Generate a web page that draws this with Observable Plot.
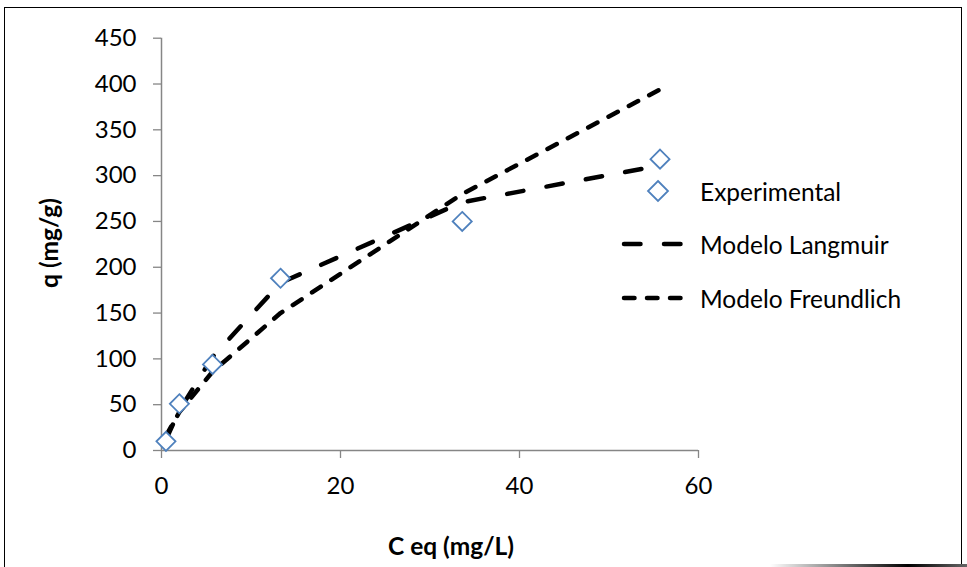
<!DOCTYPE html>
<html>
<head>
<meta charset="utf-8">
<script src="https://cdn.jsdelivr.net/npm/d3@7"></script>
<script src="https://cdn.jsdelivr.net/npm/@observablehq/plot@0.6"></script>
<style>
  html, body { margin: 0; padding: 0; background: #fff; }
  body { width: 967px; height: 567px; position: relative; overflow: hidden; font-family: Lato, "Open Sans", sans-serif; }
  #frame { position: absolute; left: 4px; top: 7px; width: 958px; height: 570px; border: 1.5px solid #000; box-sizing: border-box; }
  #shadow { position: absolute; left: 770px; top: 564px; width: 197px; height: 3px; background: linear-gradient(to right, rgba(0,0,0,0), #000 70%, #666); }
  #chart { position: absolute; left: 0; top: 0; }
  .ttl { position: absolute; font-weight: bold; font-size: 24.5px; color: #000; white-space: nowrap; }
  #xt { left: 451px; top: 545px; transform: translate(-50%, -50%); }
  #yt { left: 48px; top: 243px; transform: translate(-50%, -50%) rotate(-90deg); }
  .leg { position: absolute; font-size: 24.5px; color: #000; white-space: nowrap; transform: translateY(-50%); }
  .legsvg { position: absolute; }
</style>
</head>
<body>
<div id="frame"></div>
<div id="shadow"></div>
<div id="chart"></div>
<div class="ttl" id="xt">C eq (mg/L)</div>
<div class="ttl" id="yt">q (mg/g)</div>
<svg class="legsvg" style="left:640px;top:176px" width="36" height="30"><path d="M18,5 L28,15 L18,25 L8,15 Z" fill="#fff" stroke="#4f81bd" stroke-width="1.8"/></svg>
<div class="leg" style="left:700px;top:191px">Experimental</div>
<svg class="legsvg" style="left:616px;top:234px" width="76" height="20"><line x1="8" y1="10" x2="68" y2="10" stroke="#000" stroke-width="4.5" stroke-linecap="round" stroke-dasharray="16.5,23.5"/></svg>
<div class="leg" style="left:700px;top:244px">Modelo Langmuir</div>
<svg class="legsvg" style="left:616px;top:288px" width="76" height="20"><line x1="8" y1="10" x2="68" y2="10" stroke="#000" stroke-width="4.5" stroke-linecap="round" stroke-dasharray="10.5,12.5"/></svg>
<div class="leg" style="left:700px;top:298px">Modelo Freundlich</div>
<script>
const ceq = [0.5, 2.0, 5.7, 13.3, 33.6, 55.7];
const experimental = [10, 51, 94, 188, 250, 318];
const langmuir = [12, 44, 102, 183, 271, 311];
const freundlich = [16, 42, 86, 150, 280, 394];
const xTicks = [0, 20, 40, 60];
const yTicks = [0, 50, 100, 150, 200, 250, 300, 350, 400, 450];

const expData = ceq.map((c, i) => ({c, q: experimental[i]}));
const langData = ceq.map((c, i) => ({c, q: langmuir[i]}));
const freData = ceq.map((c, i) => ({c, q: freundlich[i]}));

const axisColor = "#868686";
const chart = Plot.plot({
  width: 967,
  height: 567,
  marginLeft: 161,
  marginRight: 269,
  marginTop: 37.7,
  marginBottom: 117,
  style: { fontFamily: "Lato, 'Open Sans', sans-serif", background: "transparent", color: "#000" },
  x: { domain: [0, 60] },
  y: { domain: [0, 450] },
  marks: [
    Plot.axisX(xTicks, { tickSize: 8, tickPadding: 18, stroke: axisColor, strokeWidth: 1.3, fill: "#000", fontSize: 24, label: null }),
    Plot.axisY(yTicks, { tickSize: 8, tickPadding: 17, stroke: axisColor, strokeWidth: 1.3, fill: "#000", fontSize: 24, label: null }),
    Plot.ruleY([0], { stroke: axisColor, strokeWidth: 1.5 }),
    Plot.ruleX([0], { stroke: axisColor, strokeWidth: 1.5 }),
    Plot.line(freData, { x: "c", y: "q", stroke: "#000", strokeWidth: 4.5, strokeLinecap: "round", strokeDasharray: "10.5,12.5" }),
    Plot.line(langData, { x: "c", y: "q", stroke: "#000", strokeWidth: 4.5, strokeLinecap: "round", strokeDasharray: "16.5,23.5" }),
    Plot.dot(expData, { x: "c", y: "q", symbol: "diamond2", r: 8.6, fill: "#fff", stroke: "#4f81bd", strokeWidth: 1.8 })
  ]
});
document.getElementById("chart").appendChild(chart);
</script>
</body>
</html>
